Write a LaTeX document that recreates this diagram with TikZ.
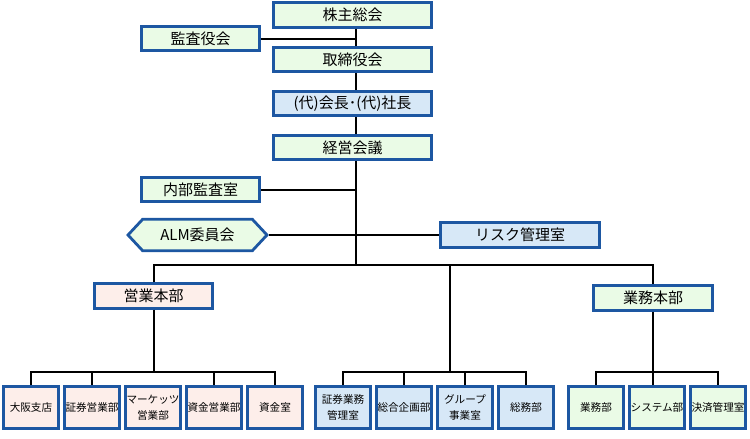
\documentclass[tikz,border=0pt]{standalone}
\usepackage{fontspec}
\setmainfont{Noto Sans CJK JP}
\usepackage{tikz}
\usetikzlibrary{shapes.symbols}
\definecolor{BoxLine}{HTML}{1D57A2}
\definecolor{GreenFill}{HTML}{EAFBE6}
\definecolor{BlueFill}{HTML}{D7E8F7}
\definecolor{PinkFill}{HTML}{FDEEEA}

\begin{document}
\begin{tikzpicture}[x=1pt, y=-1pt,
	box/.style={draw=BoxLine, line width=2.8pt, inner sep=0pt, minimum height=24.5pt, font=\fontsize{15}{17}\selectfont},
	unit/.style={draw=BoxLine, line width=2.8pt, inner sep=0pt, minimum width=55.5pt, minimum height=42.5pt, align=center, font=\fontsize{10.6}{16}\selectfont},
	link/.style={line width=2pt}]
	\useasboundingbox (0,0) rectangle (750,439);

	% top of the chart
	\coordinate (trunk) at (356,0);
	\node[box, fill=GreenFill, minimum width=157.5pt] (soukai) at (352.5,15) {株主総会};
	\node[box, fill=GreenFill, minimum width=118.5pt] (kansa) at (200.5,38.5) {監査役会};
	\node[box, fill=GreenFill, minimum width=157.5pt] (torishimari) at (352.5,59.5) {取締役会};
	\node[box, fill=BlueFill, minimum width=157.5pt] (kaicho) at (352.5,103.5) {(代)会長･(代)社長};
	\node[box, fill=GreenFill, minimum width=157.5pt] (keiei) at (352.5,147.5) {経営会議};

	\node[box, fill=GreenFill, minimum width=118.5pt] (naibu) at (200.5,189.5) {内部監査室};
	\node[box, fill=GreenFill, shape=signal, signal to=west and east, signal pointer angle=94, minimum width=139pt, minimum height=31.5pt] (alm) at (197.5,235) {ALM委員会};
	\node[box, fill=BlueFill, minimum width=158.5pt] (risk) at (520,235) {リスク管理室};

	\coordinate (bus) at (0,265);
	\node[box, fill=PinkFill, minimum width=118.5pt] (eigyo) at (153.5,296) {営業本部};
	\node[box, fill=GreenFill, minimum width=119.5pt] (gyomu) at (653,298) {業務本部};
	\coordinate (mid) at (450,265);

	% bottom row
	\coordinate (low) at (0,372);
	\node[unit, fill=PinkFill] (osaka) at (31,407.5) {大阪支店};
	\node[unit, fill=PinkFill] (shoken) at (92,407.5) {証券営業部};
	\node[unit, fill=PinkFill] (markets) at (153,407.5) {マーケッツ\\営業部};
	\node[unit, fill=PinkFill] (shikin) at (214,407.5) {資金営業部};
	\node[unit, fill=PinkFill] (shikinshitsu) at (275,407.5) {資金室};

	\node[unit, fill=BlueFill] (shokenkanri) at (343,407.5) {証券業務\\管理室};
	\node[unit, fill=BlueFill] (sogo) at (404,407.5) {総合企画部};
	\node[unit, fill=BlueFill] (group) at (465,407.5) {グループ\\事業室};
	\node[unit, fill=BlueFill] (somu) at (526,407.5) {総務部};

	\node[unit, fill=GreenFill] (jimu) at (596,407.5) {業務部};
	\node[unit, fill=GreenFill] (system) at (657,407.5) {システム部};
	\node[unit, fill=GreenFill] (kessai) at (718,407.5) {決済管理室};

	% connectors
	\draw[link] (soukai.south -| trunk) -- (torishimari.north -| trunk);
	\draw[link] (kansa.east) -- (kansa.east -| trunk);
	\draw[link] (torishimari.south -| trunk) -- (kaicho.north -| trunk);
	\draw[link] (kaicho.south -| trunk) -- (keiei.north -| trunk);
	\draw[link] (keiei.south -| trunk) -- (bus -| trunk);
	\draw[link] (naibu.east) -- (naibu.east -| trunk);
	\draw[link] (alm.east) -- (risk.west);
	\draw[link] (eigyo.north) -- (eigyo.north |- bus) -- (gyomu.north |- bus) -- (gyomu.north);

	\draw[link] (eigyo.south) -- (eigyo.south |- low);
	\draw[link] (osaka.north) -- (osaka.north |- low) -- (shikinshitsu.north |- low) -- (shikinshitsu.north);
	\draw[link] (shoken.north) -- (shoken.north |- low);
	\draw[link] (shikin.north) -- (shikin.north |- low);

	\draw[link] (mid) -- (mid |- low);
	\draw[link] (shokenkanri.north) -- (shokenkanri.north |- low) -- (somu.north |- low) -- (somu.north);
	\draw[link] (sogo.north) -- (sogo.north |- low);
	\draw[link] (group.north) -- (group.north |- low);

	\draw[link] (gyomu.south) -- (gyomu.south |- system.north);
	\draw[link] (jimu.north) -- (jimu.north |- low) -- (kessai.north |- low) -- (kessai.north);
\end{tikzpicture}
\end{document}
